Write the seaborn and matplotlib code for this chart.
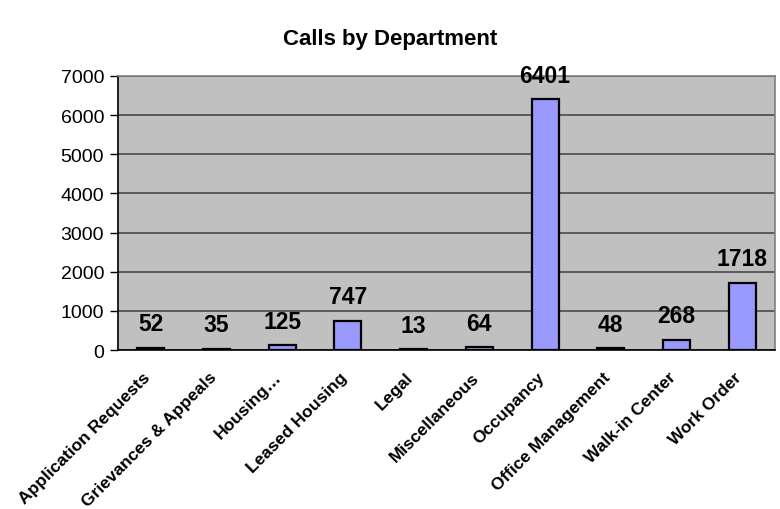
import matplotlib
matplotlib.use("Agg")
import matplotlib.pyplot as plt
import matplotlib.transforms as mtransforms
import seaborn as sns
import pandas as pd
import numpy as np

departments = ["Application Requests", "Grievances & Appeals", "Housing\u2026",
               "Leased Housing", "Legal", "Miscellaneous", "Occupancy",
               "Office Management", "Walk-in Center", "Work Order"]
calls = [52, 35, 125, 747, 13, 64, 6401, 48, 268, 1718]
y_ticks = [0, 1000, 2000, 3000, 4000, 5000, 6000, 7000]

df = pd.DataFrame({"department": departments, "calls": calls})

sns.set_style("white")
plt.rcParams['font.family'] = ['Liberation Sans', 'DejaVu Sans']
plt.rcParams['text.color'] = 'black'
plt.rcParams['xtick.color'] = 'black'
plt.rcParams['ytick.color'] = 'black'

fig = plt.figure(figsize=(7.8, 5.1), dpi=100)
ax = fig.add_axes([118 / 780, 1 - 351 / 510, (775 - 118) / 780, (351 - 77) / 510])
ax.set_facecolor('#C0C0C0')

sns.barplot(data=df, x="department", y="calls", color='#9999FF', saturation=1,
            width=0.41, edgecolor='black', linewidth=1.6, ax=ax, zorder=3)

ax.set_ylim(0, 7000)
ax.set_xlim(-0.5, len(departments) - 0.5)
ax.set_yticks(y_ticks)
ax.set_yticklabels([str(t) for t in y_ticks], fontsize=14)
ax.yaxis.grid(True, color='#404040', linewidth=1.1, zorder=0)
ax.set_axisbelow(True)

# category labels at centres, tick marks at boundaries (Excel style)
ax.set_xticks(range(len(departments)))
ax.set_xticklabels(departments, rotation=45, ha='right', va='top',
                   rotation_mode='anchor', fontsize=12.5, fontweight='bold')
ax.tick_params(axis='x', length=0, pad=11)
ax.set_xticks(np.arange(-0.5, len(departments), 1), minor=True)
ax.tick_params(axis='x', which='minor', length=6, width=1, color='black', direction='out')
ax.tick_params(axis='y', length=6, width=1, color='black', direction='out', left=True, pad=4)

# nudge the rotated labels a little left/down
shift = mtransforms.ScaledTranslation(-8 / 100, -4 / 100, fig.dpi_scale_trans)
for lbl in ax.get_xticklabels():
    lbl.set_transform(lbl.get_transform() + shift)

for side in ['left', 'bottom']:
    ax.spines[side].set_color('black')
    ax.spines[side].set_linewidth(1.2)
for side in ['top', 'right']:
    ax.spines[side].set_color('#808080')
    ax.spines[side].set_linewidth(1.2)

ax.bar_label(ax.containers[0], labels=[str(v) for v in calls], padding=9,
             fontsize=16.5, fontweight='bold', color='black')

ax.set_xlabel('')
ax.set_ylabel('')
fig.suptitle('Calls by Department', x=0.5, y=1 - 40 / 510, va='center',
             fontsize=16, fontweight='bold', color='black')

fig.savefig('out.png', dpi=100)
